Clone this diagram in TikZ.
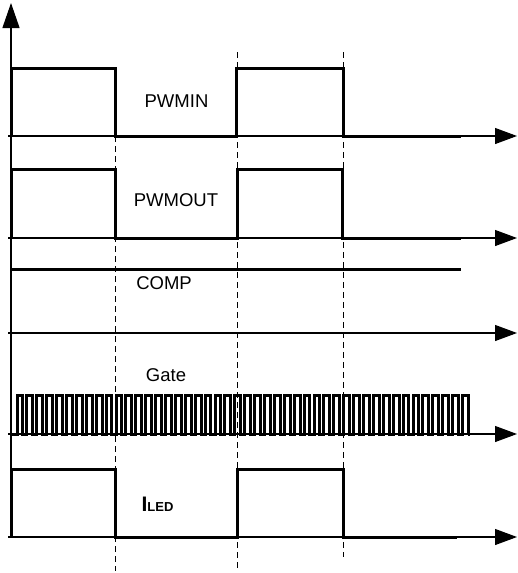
\documentclass[tikz,border=0pt]{standalone}
\usepackage{fontspec}
\setmainfont{Liberation Sans}
\usetikzlibrary{arrows.meta}

\begin{document}
\begin{tikzpicture}[x=1pt, y=-1pt,
    axis/.style={line width=1.1pt, -{Triangle[length=22pt,width=16pt]}},
    wave/.style={line width=3pt, line join=miter},
    guide/.style={line width=1pt, dash pattern=on 6pt off 4pt},
    lbl/.style={inner sep=0pt, font=\fontsize{18.5}{20}\selectfont}]
    \useasboundingbox (0,0) rectangle (517,573);

    % axes
    \coordinate (yb) at (11,537);
    \coordinate (yt) at (11,3);
    \draw [line width=1.1pt, -{Triangle[length=25pt,width=17pt]}] (yb) -- (yt);
    \foreach \name/\y in {pin/136, pout/238, comp/333, gate/434, iled/537} {
        \coordinate (\name s) at (8,\y);
        \coordinate (\name e) at (517,\y);
        \draw [axis] (\name s) -- (\name e);
    }

    % dashed guides
    \draw [guide] (115,136) -- (115,571);
    \draw [guide] (237,52) -- (237,571);
    \draw [guide] (343,52) -- (343,557);

    % waveforms
    \draw [wave] (11,136) -- (11,68) -- (115,68) -- (115,136) -- (236,136) -- (236,68) -- (343,68) -- (343,136) -- (461,136);
    \draw [wave] (11,238) -- (11,169) -- (115,169) -- (115,238) -- (237,238) -- (237,169) -- (342,169) -- (342,238) -- (461,238);
    \draw [wave] (11,269) -- (461,269);
    \draw [wave] (11,434) \foreach \k in {0,...,45} { -- ({17+9.9*\k},434) -- ++(0,-39) -- ++(5.8,0) -- ++(0,39) } -- (468,434);
    \draw [wave] (11,537) -- (11,469) -- (115,469) -- (115,537) -- (237,537) -- (237,469) -- (343,469) -- (343,537) -- (457,537);

    % labels
    \node [lbl] (pinlbl) at (176.5,101.5) {PWMIN};
    \node [lbl] (poutlbl) at (176,200.5) {PWMOUT};
    \node [lbl] (complbl) at (164,283.5) {COMP};
    \node [lbl] (gatelbl) at (166,375) {Gate};
    \node [lbl, anchor=base] (iledlbl) at (157.5,511) {\bfseries\fontsize{21}{22}\selectfont I\fontsize{13}{14}\selectfont LED};
\end{tikzpicture}
\end{document}
